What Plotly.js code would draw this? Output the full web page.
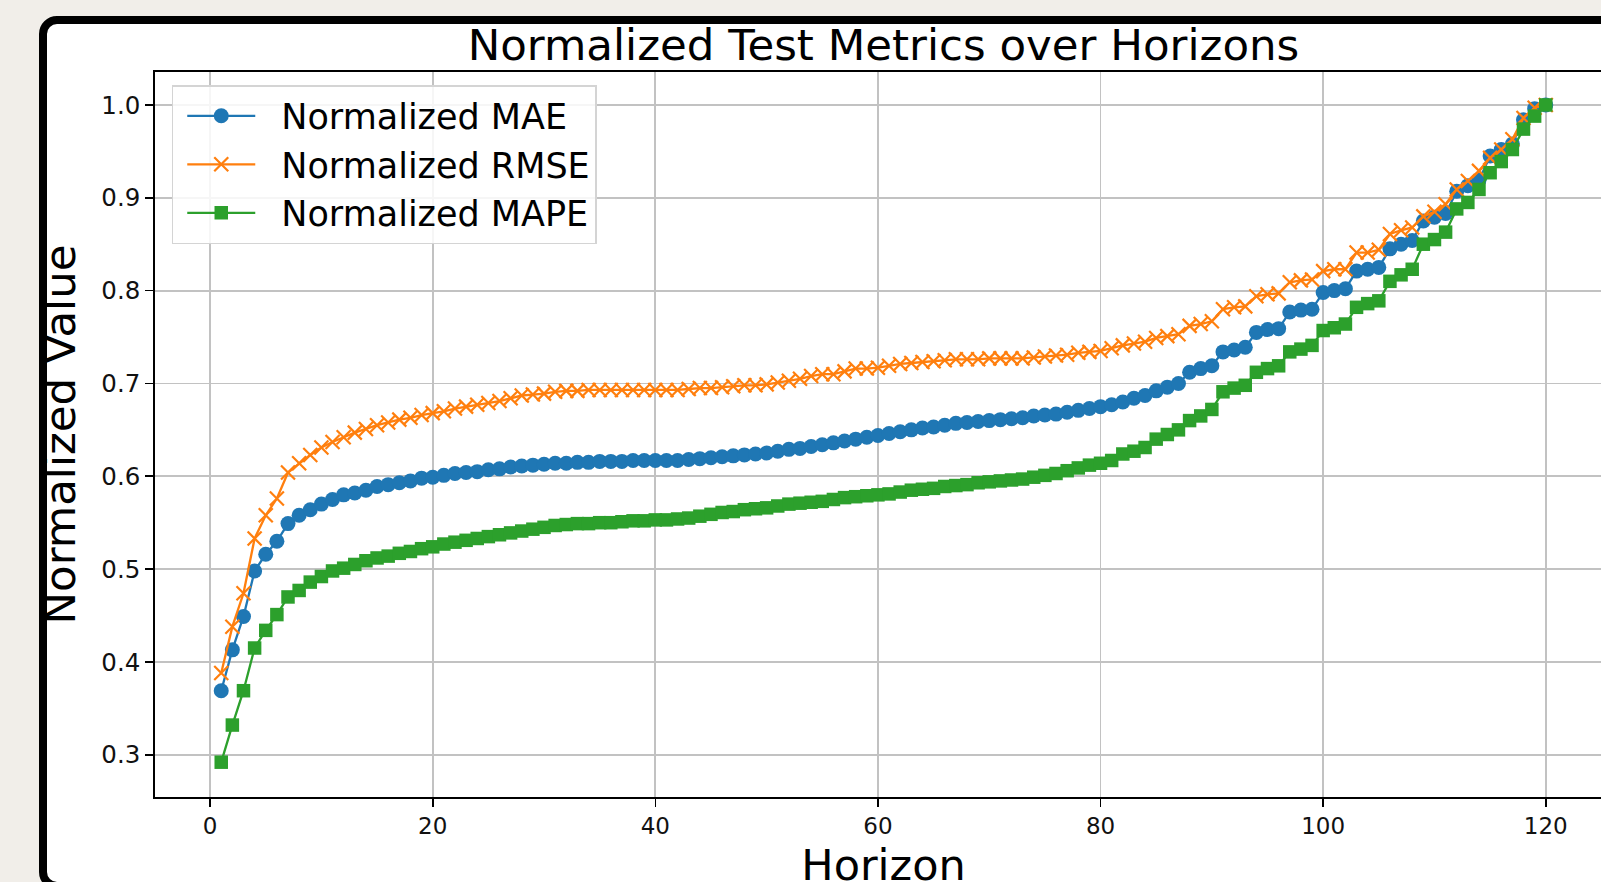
<!DOCTYPE html>
<html>
<head>
<meta charset="utf-8">
<script src="https://cdn.plot.ly/plotly-3.0.1.min.js"></script>
<style>
  html, body { margin:0; padding:0; width:1601px; height:882px; overflow:hidden; background:#f1eee9; }
  #frame { position:absolute; left:39px; top:16px; width:1700px; height:874px; box-sizing:border-box;
           border:8px solid #000; border-radius:18px; background:#fff; }
  #chart { position:absolute; left:0; top:0; width:1612px; height:900px; }
</style>
</head>
<body>
<div id="frame"></div>
<div id="chart"></div>
<script>
const horizons = [1,2,3,4,5,6,7,8,9,10,11,12,13,14,15,16,17,18,19,20,21,22,23,24,25,26,27,28,29,30,
  31,32,33,34,35,36,37,38,39,40,41,42,43,44,45,46,47,48,49,50,51,52,53,54,55,56,57,58,59,60,
  61,62,63,64,65,66,67,68,69,70,71,72,73,74,75,76,77,78,79,80,81,82,83,84,85,86,87,88,89,90,
  91,92,93,94,95,96,97,98,99,100,101,102,103,104,105,106,107,108,109,110,111,112,113,114,115,116,117,118,119,120];

const maeValues = [0.369,0.413,0.449,0.498,0.516,0.530,0.549,0.558,0.564,0.570,
  0.575,0.580,0.582,0.585,0.589,0.591,0.593,0.595,0.598,0.599,
  0.601,0.603,0.604,0.605,0.607,0.608,0.610,0.611,0.612,0.613,
  0.614,0.614,0.615,0.615,0.616,0.616,0.616,0.617,0.617,0.617,
  0.617,0.617,0.618,0.619,0.620,0.621,0.622,0.623,0.624,0.625,
  0.627,0.629,0.630,0.632,0.634,0.636,0.638,0.640,0.642,0.644,
  0.646,0.648,0.650,0.652,0.653,0.655,0.657,0.658,0.659,0.660,
  0.661,0.662,0.663,0.665,0.666,0.667,0.669,0.671,0.673,0.675,
  0.677,0.680,0.684,0.687,0.692,0.696,0.700,0.712,0.716,0.719,
  0.734,0.736,0.739,0.755,0.758,0.759,0.777,0.779,0.780,0.798,
  0.800,0.802,0.821,0.823,0.825,0.845,0.850,0.854,0.875,0.879,
  0.883,0.907,0.913,0.919,0.945,0.952,0.958,0.984,0.996,1.000];

const rmseValues = [0.388,0.438,0.474,0.533,0.558,0.576,0.604,0.614,0.623,0.631,
  0.637,0.642,0.647,0.651,0.655,0.658,0.661,0.663,0.666,0.668,
  0.670,0.673,0.675,0.677,0.679,0.681,0.684,0.687,0.688,0.689,
  0.691,0.692,0.692,0.693,0.693,0.693,0.693,0.693,0.693,0.693,
  0.693,0.693,0.694,0.695,0.695,0.696,0.697,0.698,0.698,0.699,
  0.701,0.703,0.705,0.708,0.710,0.710,0.713,0.716,0.716,0.717,
  0.719,0.721,0.722,0.723,0.724,0.725,0.726,0.726,0.726,0.727,
  0.727,0.727,0.727,0.728,0.729,0.730,0.731,0.733,0.734,0.735,
  0.738,0.741,0.743,0.745,0.749,0.751,0.753,0.762,0.764,0.767,
  0.780,0.782,0.783,0.794,0.796,0.797,0.809,0.811,0.812,0.821,
  0.823,0.823,0.841,0.841,0.844,0.861,0.865,0.868,0.880,0.885,
  0.893,0.909,0.918,0.929,0.943,0.952,0.963,0.986,0.997,1.000];

const mapeValues = [0.292,0.332,0.369,0.415,0.434,0.451,0.470,0.477,0.486,0.492,
  0.498,0.501,0.505,0.509,0.512,0.514,0.517,0.519,0.522,0.524,
  0.527,0.529,0.531,0.533,0.535,0.537,0.539,0.541,0.543,0.545,
  0.547,0.548,0.549,0.549,0.550,0.550,0.551,0.552,0.552,0.553,
  0.553,0.554,0.555,0.557,0.559,0.561,0.562,0.564,0.565,0.566,
  0.568,0.570,0.571,0.572,0.573,0.575,0.577,0.578,0.579,0.580,
  0.581,0.583,0.585,0.586,0.587,0.589,0.590,0.591,0.593,0.594,
  0.595,0.596,0.597,0.599,0.601,0.603,0.606,0.609,0.612,0.614,
  0.617,0.624,0.627,0.631,0.640,0.645,0.650,0.660,0.665,0.672,
  0.691,0.695,0.698,0.712,0.716,0.719,0.734,0.737,0.741,0.757,
  0.760,0.764,0.782,0.786,0.789,0.810,0.817,0.823,0.850,0.855,
  0.863,0.888,0.895,0.909,0.927,0.939,0.952,0.974,0.988,1.000];

const seriesNames = ['Normalized MAE', 'Normalized RMSE', 'Normalized MAPE'];
const xTickValues = [0, 20, 40, 60, 80, 100, 120];
const yTickValues = [0.3, 0.4, 0.5, 0.6, 0.7, 0.8, 0.9, 1.0];

const FONT = 'DejaVu Sans, Verdana, sans-serif';

const traces = [
  { x: horizons, y: maeValues, name: seriesNames[0], type: 'scatter', mode: 'lines+markers',
    legendgroup: 'a',
    line: { color: '#1f77b4', width: 2.3 },
    marker: { symbol: 'circle', size: 15, color: '#1f77b4' } },
  { x: horizons, y: rmseValues, name: seriesNames[1], type: 'scatter', mode: 'lines+markers',
    legendgroup: 'b',
    line: { color: '#ff7f0e', width: 2.3 },
    marker: { symbol: 'x-thin-open', size: 14, color: '#ff7f0e', line: { color: '#ff7f0e', width: 2.2 } } },
  { x: horizons, y: mapeValues, name: seriesNames[2], type: 'scatter', mode: 'lines+markers',
    legendgroup: 'c',
    line: { color: '#2ca02c', width: 2.3 },
    marker: { symbol: 'square', size: 13.5, color: '#2ca02c' } }
];

const layout = {
  width: 1612, height: 900,
  margin: { l: 155, r: 0, t: 72, b: 103, pad: 0 },
  paper_bgcolor: 'rgba(0,0,0,0)',
  plot_bgcolor: '#ffffff',
  font: { family: FONT, color: '#000' },
  title: { text: 'Normalized Test Metrics over Horizons', font: { family: FONT, size: 43.5, color: '#000' },
           x: 0.5, xref: 'paper', y: 1 - 45/900, yref: 'container', yanchor: 'middle', xanchor: 'center' },
  showlegend: true,
  legend: { x: 0.0115, y: 0.982, xanchor: 'left', yanchor: 'top',
            bgcolor: 'rgba(255,255,255,0.85)', bordercolor: '#d4d4d4', borderwidth: 1.5,
            font: { family: FONT, size: 35, color: '#000' }, tracegroupgap: 0, itemwidth: 98 },
  xaxis: {
    range: [-4.95, 125.95], tickmode: 'array', tickvals: xTickValues, ticktext: xTickValues.map(String),
    showgrid: true, gridcolor: '#c2c2c2', gridwidth: 1.8, zeroline: false,
    showline: true, linecolor: '#000', linewidth: 1.8, mirror: true,
    ticks: 'outside', ticklen: 8, tickwidth: 1.6, tickcolor: '#000',
    tickfont: { family: FONT, size: 23, color: '#111' },
    title: { text: 'Horizon', font: { family: FONT, size: 43, color: '#000' }, standoff: 11 }
  },
  yaxis: {
    range: [0.2545, 1.0355], tickmode: 'array', tickvals: yTickValues, ticktext: yTickValues.map(v => v.toFixed(1)),
    showgrid: true, gridcolor: '#c2c2c2', gridwidth: 1.8, zeroline: false,
    showline: true, linecolor: '#000', linewidth: 1.8, mirror: false,
    ticks: 'outside', ticklen: 8, tickwidth: 1.6, tickcolor: '#000',
    tickfont: { family: FONT, size: 24.5, color: '#111' },
    title: { text: 'Normalized Value', font: { family: FONT, size: 43.5, color: '#000' }, standoff: 12 }
  }
};

Plotly.newPlot('chart', traces, layout, { displayModeBar: false, staticPlot: true }).then(function (gd) {
  // lengthen legend line samples (matplotlib-style handles) and center markers on them
  gd.querySelectorAll('.legend .legendlines path').forEach(function (p) {
    p.setAttribute('d', 'M14,0h68');
  });
  gd.querySelectorAll('.legend .legendpoints path').forEach(function (p) {
    var t = p.getAttribute('transform') || '';
    p.setAttribute('transform', t.replace(/translate\(\s*[-\d.]+/, 'translate(48'));
  });
});
</script>
</body>
</html>
